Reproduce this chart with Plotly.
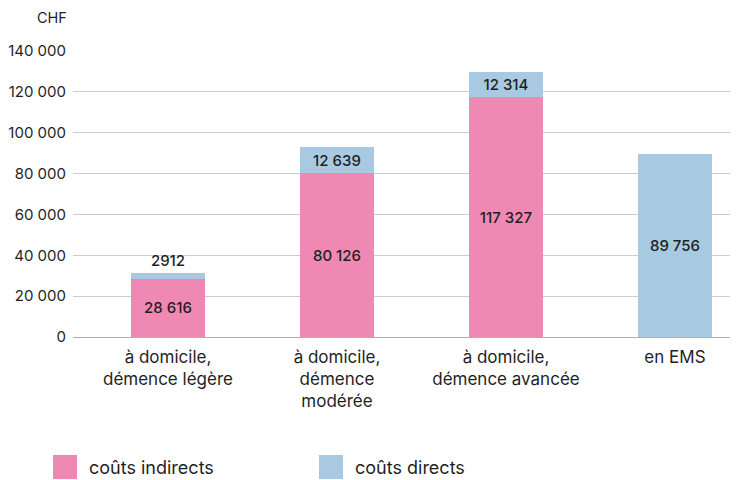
import plotly.graph_objects as go

# data (CHF per person and year)
categories = ["à domicile,<br>démence légère", "à domicile,<br>démence<br>modérée",
              "à domicile,<br>démence avancée", "en EMS"]
indirect_costs = [28616, 80126, 117327, 0]
direct_costs = [2912, 12639, 12314, 89756]
indirect_labels = ["28 616", "80 126", "117 327", ""]
direct_labels = ["2912", "12 639", "12 314", "89 756"]
y_ticks = [0, 20000, 40000, 60000, 80000, 100000, 120000, 140000]

pink = "#F088B4"
blue = "#A7CAE2"
font = "Inter, Lato, sans-serif"
dark = "#1f1f1f"

# page body has an 8px margin, so the figure is a bit smaller than the window
W, H = 730, 472
L, R, T, B = 65, 0, 43, 143
pw, ph = W - L - R, H - T - B


def px_x(x):
    # window pixel -> paper coordinate
    return (x - 8 - L) / pw


def px_y(y):
    return 1 - (y - 8 - T) / ph


fig = go.Figure()
fig.add_trace(go.Bar(x=categories, y=indirect_costs, name="coûts indirects",
                     marker=dict(color=pink, line=dict(width=0)),
                     text=indirect_labels, textposition="inside",
                     insidetextanchor="middle",
                     textfont=dict(size=15, color=dark, family=font, weight=500)))
fig.add_trace(go.Bar(x=categories, y=direct_costs, name="coûts directs",
                     marker=dict(color=blue, line=dict(width=0)),
                     text=direct_labels,
                     textposition=["outside", "inside", "inside", "inside"],
                     insidetextanchor="middle", cliponaxis=False,
                     textfont=dict(size=15, color=dark, family=font, weight=500)))

fig.update_layout(
    width=W, height=H,
    barmode="stack", bargap=0.56,
    separators=". ",
    showlegend=False,
    plot_bgcolor="white", paper_bgcolor="white",
    margin=dict(l=L, r=R, t=T, b=B, autoexpand=False),
    font=dict(family=font, size=14, color=dark),
    uniformtext=dict(minsize=15, mode="show"),
)
fig.update_xaxes(range=[-0.562, 3.373], showgrid=False, showline=False,
                 ticks="", automargin=False, ticklabelstandoff=8,
                 tickfont=dict(size=17, color=dark, family=font))
fig.update_yaxes(range=[0, 140000], tickvals=y_ticks, tickformat=",",
                 showgrid=True, gridcolor="#cccccc", gridwidth=1,
                 zeroline=True, zerolinecolor="#b0b0b0", zerolinewidth=1,
                 ticks="", ticklabelstandoff=6, automargin=False,
                 tickfont=dict(size=15, color=dark, family=font),
                 showline=False)

# unit label
fig.add_annotation(text="CHF", xref="paper", yref="paper", x=px_x(69), y=px_y(18),
                   xanchor="right", yanchor="middle", showarrow=False,
                   font=dict(size=14.5, color=dark, family=font))

# custom legend at the bottom
legend_items = [("coûts indirects", pink, 53), ("coûts directs", blue, 319)]
for name, color, x0 in legend_items:
    fig.add_shape(type="rect", xref="paper", yref="paper",
                  x0=px_x(x0), x1=px_x(x0 + 24), y0=px_y(479), y1=px_y(455),
                  fillcolor=color, line=dict(width=0))
    fig.add_annotation(text=name, xref="paper", yref="paper",
                       x=px_x(x0 + 34), y=px_y(467),
                       xanchor="left", yanchor="middle", showarrow=False,
                       font=dict(size=18, color=dark, family=font))

fig.write_html("out.html")
